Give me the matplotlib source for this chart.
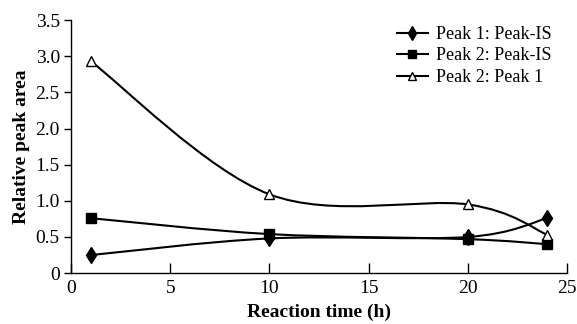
import numpy as np
import matplotlib
matplotlib.use('Agg')
import matplotlib.pyplot as plt
from matplotlib.path import Path
from matplotlib.patches import PathPatch
from matplotlib.lines import Line2D

# data
hours = [1, 10, 20, 24]
peak1_is = [0.25, 0.48, 0.50, 0.76]
peak2_is = [0.76, 0.54, 0.47, 0.40]
peak2_peak1 = [2.93, 1.09, 0.95, 0.53]

plt.rcParams['font.family'] = ['Liberation Serif', 'DejaVu Serif']


def smooth_path(x, y):
    # Excel-style smoothed line: Catmull-Rom segments as cubic Bezier
    pts = np.column_stack([x, y]).astype(float)
    ext = np.vstack([pts[0], pts, pts[-1]])
    verts = [pts[0]]
    codes = [Path.MOVETO]
    for i in range(len(pts) - 1):
        p0, p1, p2, p3 = ext[i], ext[i + 1], ext[i + 2], ext[i + 3]
        c1 = p1 + (p2 - p0) / 6.0
        c2 = p2 - (p3 - p1) / 6.0
        verts += [c1, c2, p2]
        codes += [Path.CURVE4] * 3
    return Path(verts, codes)


fig = plt.figure(figsize=(5.77, 3.24), dpi=100)
ax = fig.add_axes([0.123, 0.157, 0.860, 0.781])

series = [
    (peak1_is, 'd', 'black', 8.5, 'Peak 1: Peak-IS'),
    (peak2_is, 's', 'black', 6.5, 'Peak 2: Peak-IS'),
    (peak2_peak1, '^', 'white', 7.5, 'Peak 2: Peak 1'),
]
handles = []
for vals, mk, fc, ms, lab in series:
    ax.add_patch(PathPatch(smooth_path(hours, vals), facecolor='none',
                           edgecolor='black', lw=1.5, zorder=2))
    ax.plot(hours, vals, linestyle='none', marker=mk, markersize=ms,
            markerfacecolor=fc, markeredgecolor='black', markeredgewidth=1,
            zorder=3)
    handles.append(Line2D([], [], color='black', lw=1.5, marker=mk,
                          markersize=ms * 0.85, markerfacecolor=fc,
                          markeredgecolor='black', label=lab))

ax.set_xlim(0, 25)
ax.set_ylim(0, 3.5)
ax.set_xticks([0, 5, 10, 15, 20, 25])
ax.set_xticklabels(['0', '5', '10', '15', '20', '25'])
ax.set_yticks([0, 0.5, 1.0, 1.5, 2.0, 2.5, 3.0, 3.5])
ax.set_yticklabels(['0', '0.5', '1.0', '1.5', '2.0', '2.5', '3.0', '3.5'])
ax.tick_params(axis='x', direction='in', length=7, width=1, labelsize=14, pad=5)
ax.tick_params(axis='y', direction='out', length=5, width=1, labelsize=14, pad=3)
ax.spines['top'].set_visible(False)
ax.spines['right'].set_visible(False)
for s in ('left', 'bottom'):
    ax.spines[s].set_linewidth(1)

ax.set_xlabel('Reaction time (h)', fontsize=14, fontweight='bold', labelpad=5)
ax.set_ylabel('Relative peak area', fontsize=14, fontweight='bold', labelpad=4)

ax.legend(handles=handles, loc='upper right', bbox_to_anchor=(0.99, 1.02),
          frameon=False, fontsize=13, handlelength=1.7, handletextpad=0.45,
          labelspacing=0.25, borderaxespad=0.2)

fig.savefig('out.png', dpi=100)
